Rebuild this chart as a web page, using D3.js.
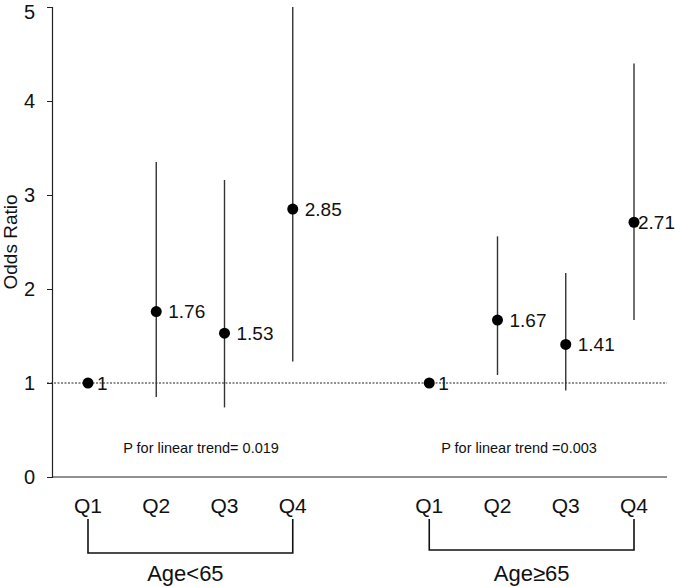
<!DOCTYPE html>
<html><head><meta charset="utf-8">
<script src="https://cdn.jsdelivr.net/npm/d3@7"></script>
<style>body{margin:0;background:#fff}svg{display:block;font-family:"Liberation Sans",Arial,sans-serif}</style>
</head><body><svg id="c" width="676" height="587"></svg>
<script>
const slots = ["A-Q1","A-Q2","A-Q3","A-Q4","gap","B-Q1","B-Q2","B-Q3","B-Q4"];
const quartiles = ["Q1","Q2","Q3","Q4"];
const groups = ["Age<65","Age≥65"];
const orLeft = [1, 1.76, 1.53, 2.85];
const lowLeft = [null, 0.85, 0.74, 1.23];
const highLeft = [null, 3.35, 3.16, 5.0];
const orRight = [1, 1.67, 1.41, 2.71];
const lowRight = [null, 1.085, 0.92, 1.67];
const highRight = [null, 2.56, 2.17, 4.40];
const labelsLeft = ["1","1.76","1.53","2.85"];
const labelsRight = ["1","1.67","1.41","2.71"];
const pTrend = ["P for linear trend= 0.019","P for linear trend =0.003"];
const yTicks = [0,1,2,3,4,5];

const svg = d3.select("#c");
const x = d3.scalePoint().domain(slots).range([88, 634]);
const y = d3.scaleLinear().domain([0,5]).range([477, 7]);

const data = [];
quartiles.forEach((q,i)=>{
  data.push({slot:"A-"+q, q, or:orLeft[i], lo:lowLeft[i], hi:highLeft[i], lab:labelsLeft[i], g:0});
});
quartiles.forEach((q,i)=>{
  data.push({slot:"B-"+q, q, or:orRight[i], lo:lowRight[i], hi:highRight[i], lab:labelsRight[i], g:1});
});

// reference line at 1
svg.append("line").attr("x1",47).attr("x2",667).attr("y1",y(1)).attr("y2",y(1))
  .attr("stroke","#222").attr("stroke-width",1).attr("stroke-dasharray","2,1.5");

// y axis
const ya = svg.append("g").attr("transform","translate(52,0)")
  .call(d3.axisLeft(y).tickValues(yTicks).tickSize(5).tickPadding(12).tickFormat(d3.format("d")));
ya.select(".domain").attr("stroke","#222").attr("stroke-width",1.2);
ya.selectAll(".tick line").attr("stroke","#222");
ya.selectAll(".tick text").attr("font-size",20).attr("fill","#111").attr("font-family","Liberation Sans, Arial, sans-serif")
  .attr("dy", d => d===5 ? "0.56em" : "0.32em");

// x axis line
svg.append("line").attr("x1",52).attr("x2",667).attr("y1",y(0)).attr("y2",y(0))
  .attr("stroke","#222").attr("stroke-width",1.2);

// y label
svg.append("text").attr("transform","translate(17,242) rotate(-90)")
  .attr("text-anchor","middle").attr("font-size",19).attr("fill","#111").text("Odds Ratio");

// CI lines
svg.selectAll(".ci").data(data.filter(d=>d.lo!=null)).join("line")
  .attr("x1",d=>x(d.slot)).attr("x2",d=>x(d.slot))
  .attr("y1",d=>y(d.hi)).attr("y2",d=>y(d.lo))
  .attr("stroke","#333").attr("stroke-width",1.4);

// points
svg.selectAll(".pt").data(data).join("circle")
  .attr("cx",d=>x(d.slot)).attr("cy",d=>y(d.or)).attr("r",5.5).attr("fill","#000");

// value labels
svg.selectAll(".vl").data(data).join("text")
  .attr("x",d=>x(d.slot) + (d.lab==="2.71" ? 4 : (d.lab==="1" ? 9 : 12)))
  .attr("y",d=>y(d.or)).attr("dy","0.36em")
  .attr("font-size",19).attr("fill","#111").text(d=>d.lab);

// p-trend
svg.selectAll(".pt2").data(pTrend).join("text")
  .attr("x",(d,i)=> i===0 ? 201 : 519).attr("y",453)
  .attr("text-anchor","middle").attr("font-size",14.5).attr("fill","#111").text(d=>d);

// Q labels
svg.selectAll(".ql").data(data).join("text")
  .attr("x",d=>x(d.slot)).attr("y",513).attr("text-anchor","middle")
  .attr("font-size",21).attr("fill","#111").text(d=>d.q);

// brackets
groups.forEach((g,i)=>{
  const x1 = x((i===0?"A-":"B-")+"Q1"), x2 = x((i===0?"A-":"B-")+"Q4");
  const yb = i===0 ? 553 : 550;
  svg.append("path").attr("d",`M${x1},519V${yb}H${x2}V519`)
    .attr("fill","none").attr("stroke","#111").attr("stroke-width",1.6);
  svg.append("text").attr("x",(x1+x2)/2 - (i===0?5:0)).attr("y",581).attr("text-anchor","middle")
    .attr("font-size",22).attr("fill","#111").text(g);
});
</script></body></html>
